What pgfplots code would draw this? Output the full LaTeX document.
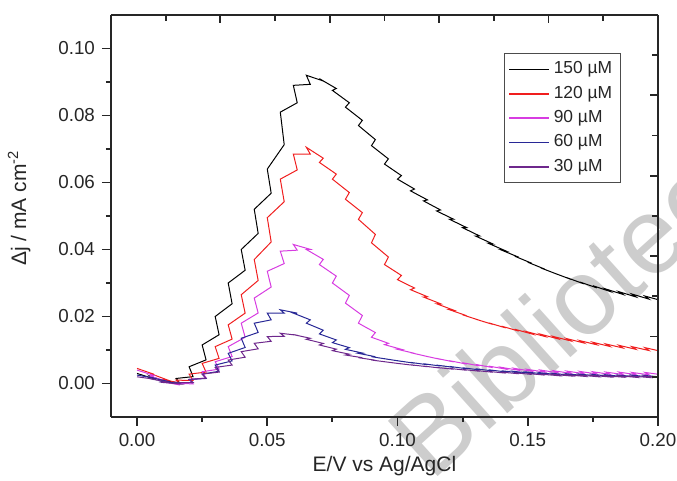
\documentclass[border=0pt]{standalone}
\usepackage{pgfplots}
\pgfplotsset{compat=1.18}
\usepackage{fontspec}
\setmainfont{Liberation Sans}

\definecolor{blackline}{RGB}{0,0,0}
\definecolor{redline}{RGB}{240,30,30}
\definecolor{magline}{RGB}{215,60,225}
\definecolor{blueline}{RGB}{40,40,150}
\definecolor{purpline}{RGB}{110,40,140}
\definecolor{wm}{RGB}{205,205,205}

\begin{document}
\begin{tikzpicture}
% watermark behind the plot
\node[wm, rotate=42, anchor=base west, inner sep=0pt,
  font=\fontsize{54}{54}\selectfont] at (160pt,-33pt) {Biblioteca};

\begin{axis}[
  scale only axis, width=273.5pt, height=201pt,
  xmin=-0.01, xmax=0.20, ymin=-0.01, ymax=0.11,
  axis x line*=bottom, axis y line*=left,
  axis line style={-, line width=0.9pt, black!85},
  xtick={0,0.05,0.1,0.15,0.2}, minor xtick={0.025,0.075,0.125,0.175},
  ytick={0,0.02,0.04,0.06,0.08,0.1}, minor ytick={0.01,0.03,0.05,0.07,0.09},
  tick align=outside, major tick length=4.5pt, minor tick length=2.5pt,
  tick style={line width=0.9pt, black!85},
  scaled x ticks=false, scaled y ticks=false,
  xticklabel style={/pgf/number format/.cd, fixed, fixed zerofill, precision=2},
  yticklabel style={/pgf/number format/.cd, fixed, fixed zerofill, precision=2},
  /pgf/number format/assume math mode=true,
  ticklabel style={font=\fontsize{9.4}{10}\selectfont, text=black!85},
  xlabel={E/V vs Ag/AgCl},
  ylabel={Δj / mA cm\textsuperscript{-2}},
  label style={font=\fontsize{10.5}{12}\selectfont, text=black!85},
  xlabel style={at={(axis description cs:0.5,-0.122)}, anchor=center},
  ylabel style={at={(axis description cs:-0.168,0.52)}, anchor=center, rotate=0},
  legend style={at={(axis description cs:0.932,0.905)}, anchor=north east,
    draw=black!70, line width=0.6pt, font=\fontsize{8.7}{10}\selectfont,
    text=black!85, row sep=0.6pt, inner sep=2pt, cells={anchor=west}},
  legend image code/.code={\draw[#1, line width=0.8pt] (0pt,0pt) -- (20pt,0pt);},
]
\addplot[color=blackline, draw=blackline, line width=0.5pt] coordinates {
(0,0.0030)
(0.0065,0.0014) (0.005,0.0022)
(0.0115,0.0004) (0.01,0.0010)
(0.0165,0.00005) (0.015,0.0015)
(0.0215,0.00205) (0.02,0.0050)
(0.0265,0.00705) (0.025,0.0115)
(0.0315,0.01455) (0.03,0.0200)
(0.0365,0.0238) (0.035,0.0300)
(0.0415,0.0338) (0.04,0.0400)
(0.0465,0.0448) (0.045,0.0520)
(0.0515,0.0568) (0.05,0.0640)
(0.0565,0.0713) (0.055,0.0810)
(0.0615,0.0838) (0.06,0.0890)
(0.0665,0.0893) (0.065,0.0920)
(0.0715,0.0903) (0.07,0.0910)
(0.0765,0.08805) (0.075,0.0875)
(0.0815,0.0838) (0.08,0.0825)
(0.0865,0.07855) (0.085,0.0770)
(0.0915,0.0728) (0.09,0.0710)
(0.0965,0.06705) (0.095,0.0655)
(0.1015,0.06205) (0.1,0.0610)
(0.1065,0.05805) (0.105,0.0575)
(0.1115,0.0548) (0.11,0.0545)
(0.1165,0.0518) (0.115,0.0515)
(0.1215,0.04905) (0.12,0.0490)
(0.1265,0.04655) (0.125,0.0465)
(0.1315,0.04405) (0.13,0.0440)
(0.1365,0.0417) (0.135,0.0418)
(0.1415,0.0396) (0.14,0.0398)
(0.1465,0.0377) (0.145,0.0380)
(0.1515,0.0359) (0.15,0.0362)
(0.1565,0.03415) (0.155,0.0345)
(0.1615,0.03255) (0.16,0.0330)
(0.1665,0.0311) (0.165,0.0316)
(0.1715,0.02975) (0.17,0.0303)
(0.1765,0.02855) (0.175,0.0292)
(0.1815,0.0275) (0.18,0.0282)
(0.1865,0.0266) (0.185,0.0274)
(0.1915,0.02585) (0.19,0.0267)
(0.1965,0.0252) (0.195,0.0261)
(0.2015,0.0247) (0.2,0.0257)
};
\addlegendentry{150 µM}
\addplot[color=redline, draw=redline, line width=0.5pt] coordinates {
(0,0.0045)
(0.0065,0.00275) (0.005,0.0030)
(0.0115,0.0011) (0.01,0.0012)
(0.0165,0.0001) (0.015,0.0010)
(0.0215,0.0009) (0.02,0.0028)
(0.0265,0.0034) (0.025,0.0060)
(0.0315,0.0075) (0.03,0.0110)
(0.0365,0.01325) (0.035,0.0175)
(0.0415,0.0210) (0.04,0.0265)
(0.0465,0.03075) (0.045,0.0370)
(0.0515,0.04225) (0.05,0.0495)
(0.0565,0.05425) (0.055,0.0610)
(0.0615,0.06375) (0.06,0.0685)
(0.0665,0.0685) (0.065,0.0705)
(0.0715,0.06725) (0.07,0.0660)
(0.0765,0.0625) (0.075,0.0610)
(0.0815,0.0570) (0.08,0.0550)
(0.0865,0.0510) (0.085,0.0490)
(0.0915,0.0445) (0.09,0.0420)
(0.0965,0.03775) (0.095,0.0355)
(0.1015,0.03225) (0.1,0.0310)
(0.1065,0.0285) (0.105,0.0280)
(0.1115,0.0259) (0.11,0.0258)
(0.1165,0.0238) (0.115,0.0238)
(0.1215,0.0219) (0.12,0.0220)
(0.1265,0.02025) (0.125,0.0205)
(0.1315,0.01885) (0.13,0.0192)
(0.1365,0.01765) (0.135,0.0181)
(0.1415,0.0166) (0.14,0.0171)
(0.1465,0.01565) (0.145,0.0162)
(0.1515,0.0148) (0.15,0.0154)
(0.1565,0.01405) (0.155,0.0147)
(0.1615,0.01335) (0.16,0.0140)
(0.1665,0.0127) (0.165,0.0134)
(0.1715,0.0121) (0.17,0.0128)
(0.1765,0.01155) (0.175,0.0123)
(0.1815,0.01105) (0.18,0.0118)
(0.1865,0.0106) (0.185,0.0114)
(0.1915,0.0102) (0.19,0.0110)
(0.1965,0.00985) (0.195,0.0107)
(0.2015,0.00955) (0.2,0.0104)
};
\addlegendentry{120 µM}
\addplot[color=magline, draw=magline, line width=0.5pt] coordinates {
(0,0.0040)
(0.0065,0.0024) (0.005,0.0022)
(0.0115,0.00065) (0.01,0.0005)
(0.0165,-0.00045) (0.015,0.0000)
(0.0215,-0.0001) (0.02,0.0012)
(0.0265,0.00165) (0.025,0.0035)
(0.0315,0.0043) (0.03,0.0065)
(0.0365,0.00805) (0.035,0.0110)
(0.0415,0.0138) (0.04,0.0180)
(0.0465,0.02105) (0.045,0.0255)
(0.0515,0.0288) (0.05,0.0335)
(0.0565,0.0358) (0.055,0.0395)
(0.0615,0.0398) (0.06,0.0415)
(0.0665,0.04005) (0.065,0.0400)
(0.0715,0.03705) (0.07,0.0355)
(0.0765,0.03205) (0.075,0.0300)
(0.0815,0.0263) (0.08,0.0240)
(0.0865,0.0203) (0.085,0.0180)
(0.0915,0.0152) (0.09,0.0138)
(0.0965,0.0120) (0.095,0.0116)
(0.1015,0.0102) (0.1,0.0102)
(0.1065,0.0090) (0.105,0.0092)
(0.1115,0.00805) (0.11,0.0083)
(0.1165,0.0072) (0.115,0.0075)
(0.1215,0.00645) (0.12,0.0068)
(0.1265,0.0058) (0.125,0.0062)
(0.1315,0.00525) (0.13,0.0057)
(0.1365,0.00475) (0.135,0.0052)
(0.1415,0.0043) (0.14,0.0048)
(0.1465,0.00395) (0.145,0.0045)
(0.1515,0.00365) (0.15,0.0042)
(0.1565,0.0034) (0.155,0.0040)
(0.1615,0.0032) (0.16,0.0038)
(0.1665,0.00305) (0.165,0.0037)
(0.1715,0.00295) (0.17,0.0036)
(0.1765,0.00285) (0.175,0.0035)
(0.1815,0.00275) (0.18,0.0034)
(0.1865,0.0027) (0.185,0.0034)
(0.1915,0.00265) (0.19,0.0033)
(0.1965,0.0026) (0.195,0.0033)
(0.2015,0.0026) (0.2,0.0033)
};
\addlegendentry{90 µM}
\addplot[color=blueline, draw=blueline, line width=0.5pt] coordinates {
(0,0.0025)
(0.0065,0.00165) (0.005,0.0018)
(0.0115,0.0007) (0.01,0.0006)
(0.0165,-0.00005) (0.015,0.0003)
(0.0215,0.00025) (0.02,0.0012)
(0.0265,0.0015) (0.025,0.0028)
(0.0315,0.00365) (0.03,0.0055)
(0.0365,0.00675) (0.035,0.0090)
(0.0415,0.01075) (0.04,0.0135)
(0.0465,0.01525) (0.045,0.0180)
(0.0515,0.0190) (0.05,0.0210)
(0.0565,0.0210) (0.055,0.0220)
(0.0615,0.0210) (0.06,0.0210)
(0.0665,0.0190) (0.065,0.0180)
(0.0715,0.0159) (0.07,0.0148)
(0.0765,0.0130) (0.075,0.0122)
(0.0815,0.0107) (0.08,0.0102)
(0.0865,0.0091) (0.085,0.0090)
(0.0915,0.0080) (0.09,0.0080)
(0.0965,0.0072) (0.095,0.0074)
(0.1015,0.0066) (0.1,0.0068)
(0.1065,0.00605) (0.105,0.0063)
(0.1115,0.0056) (0.11,0.0059)
(0.1165,0.0052) (0.115,0.0055)
(0.1215,0.0048) (0.12,0.0051)
(0.1265,0.0044) (0.125,0.0047)
(0.1315,0.00405) (0.13,0.0044)
(0.1365,0.00375) (0.135,0.0041)
(0.1415,0.00345) (0.14,0.0038)
(0.1465,0.0032) (0.145,0.0036)
(0.1515,0.0030) (0.15,0.0034)
(0.1565,0.0028) (0.155,0.0032)
(0.1615,0.0026) (0.16,0.0030)
(0.1665,0.00245) (0.165,0.0029)
(0.1715,0.00235) (0.17,0.0028)
(0.1765,0.00225) (0.175,0.0027)
(0.1815,0.00215) (0.18,0.0026)
(0.1865,0.00205) (0.185,0.0025)
(0.1915,0.0020) (0.19,0.0025)
(0.1965,0.00195) (0.195,0.0024)
(0.2015,0.0019) (0.2,0.0024)
};
\addlegendentry{60 µM}
\addplot[color=purpline, draw=purpline, line width=0.5pt] coordinates {
(0,0.0020)
(0.0065,0.0013) (0.005,0.0014)
(0.0115,0.00045) (0.01,0.0003)
(0.0165,-0.00015) (0.015,0.0002)
(0.0215,0.0003) (0.02,0.0012)
(0.0265,0.0016) (0.025,0.0028)
(0.0315,0.0034) (0.03,0.0048)
(0.0365,0.0055) (0.035,0.0070)
(0.0415,0.00785) (0.04,0.0095)
(0.0465,0.01035) (0.045,0.0120)
(0.0515,0.0126) (0.05,0.0140)
(0.0565,0.0141) (0.055,0.0150)
(0.0615,0.0144) (0.06,0.0146)
(0.0665,0.0135) (0.065,0.0132)
(0.0715,0.01195) (0.07,0.0115)
(0.0765,0.01025) (0.075,0.0098)
(0.0815,0.00875) (0.08,0.0085)
(0.0865,0.0077) (0.085,0.0077)
(0.0915,0.00695) (0.09,0.0070)
(0.0965,0.00635) (0.095,0.0065)
(0.1015,0.00585) (0.1,0.0060)
(0.1065,0.0054) (0.105,0.0056)
(0.1115,0.0050) (0.11,0.0052)
(0.1165,0.0046) (0.115,0.0048)
(0.1215,0.00425) (0.12,0.0045)
(0.1265,0.00395) (0.125,0.0042)
(0.1315,0.00365) (0.13,0.0039)
(0.1365,0.00335) (0.135,0.0036)
(0.1415,0.0031) (0.14,0.0034)
(0.1465,0.0029) (0.145,0.0032)
(0.1515,0.0027) (0.15,0.0030)
(0.1565,0.0025) (0.155,0.0028)
(0.1615,0.00235) (0.16,0.0027)
(0.1665,0.00225) (0.165,0.0026)
(0.1715,0.00215) (0.17,0.0025)
(0.1765,0.00205) (0.175,0.0024)
(0.1815,0.00195) (0.18,0.0023)
(0.1865,0.0019) (0.185,0.0023)
(0.1915,0.00185) (0.19,0.0022)
(0.1965,0.0018) (0.195,0.0022)
(0.2015,0.0018) (0.2,0.0022)
};
\addlegendentry{30 µM}
\end{axis}

% mirror axis: top and right with inward ticks, no labels
\begin{axis}[
  scale only axis, width=273.5pt, height=201pt,
  xmin=0, xmax=5, ymin=0, ymax=10,
  axis x line*=top, axis y line*=right,
  axis line style={-, line width=0.9pt, black!85},
  xtick={0,1,2,3,4,5}, minor x tick num=1,
  ytick={0,2,4,6,8,10}, minor y tick num=1,
  tick align=inside, major tick length=4pt, minor tick length=3pt,
  tick style={line width=0.9pt, black!85},
  xticklabels={}, yticklabels={},
]
\end{axis}

\pgfresetboundingbox
\path (-55.5pt,-32pt) rectangle (283pt,208.5pt);
\end{tikzpicture}
\end{document}
